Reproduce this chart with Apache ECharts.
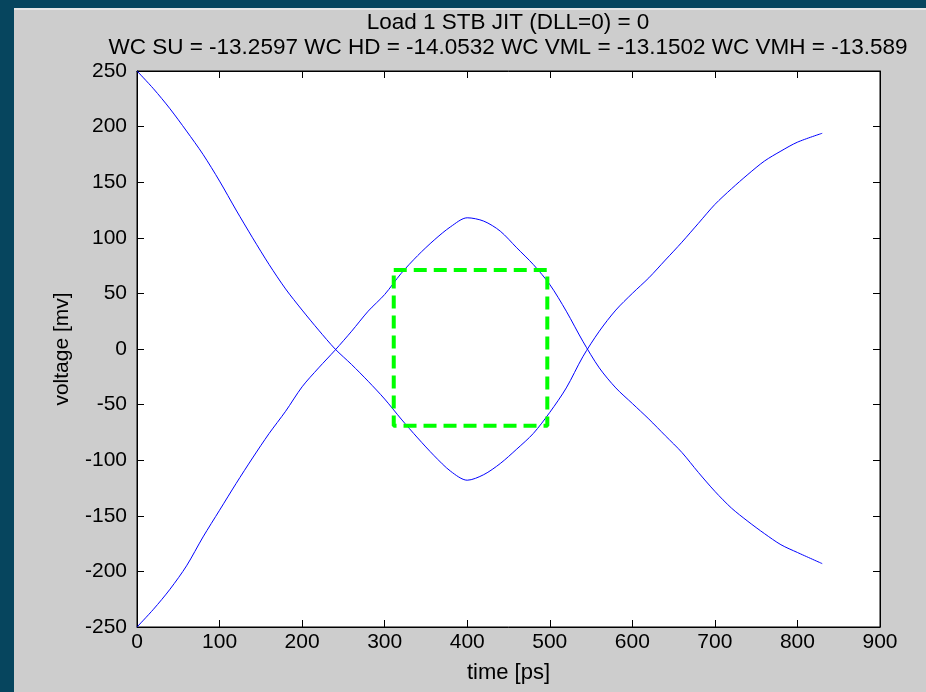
<!DOCTYPE html>
<html>
<head>
<meta charset="utf-8">
<script src="https://cdn.jsdelivr.net/npm/echarts@6/dist/echarts.min.js"></script>
<style>
  html, body { margin: 0; padding: 0; }
  #chartdata { width: 926px; height: 692px; }
</style>
</head>
<body>
<div id="chartdata"></div>
<script>
// time samples [ps]
var timePs = [0, 20, 40, 60, 80, 100, 120, 140, 160, 180, 200, 220, 240, 260, 280, 300, 320, 340, 360, 380, 400,
  420, 440, 460, 480, 500, 520, 540, 560, 580, 600, 620, 640, 660, 680, 700, 720, 740, 760, 780, 800, 830]
// trace starting high
var traceHigh = [250, 234, 216, 196, 175, 151, 125, 100, 76, 54, 35, 17, 0, -14, -29, -45, -63, -80, -96, -110, -118,
  -113, -103, -90, -76, -57, -35, -7, 16, 35, 50, 64, 80, 96, 113, 130, 144, 157, 169, 178, 186, 194]
// trace starting low
var traceLow = [-250, -234, -216, -195, -169, -145, -121, -98, -76, -56, -34, -17, -1, 16, 34, 49, 68, 84, 98, 110, 118,
  115, 106, 91, 76, 58, 34, 7, -17, -35, -49, -63, -78, -93, -111, -128, -143, -155, -166, -176, -183, -193]
// eye mask corners
var maskT = [311, 497, 497, 311, 311]
var maskV = [71, 71, -69, -69, 71]

var xTicks = [0, 100, 200, 300, 400, 500, 600, 700, 800, 900]
var yTicks = [-250, -200, -150, -100, -50, 0, 50, 100, 150, 200, 250]

var titleText = 'Load 1 STB JIT (DLL=0) = 0'
var subText = 'WC SU = -13.2597 WC HD = -14.0532 WC VML = -13.1502 WC VMH = -13.589'

var font = '"Liberation Sans", Arial, sans-serif'

function pairs (xs, ys) {
  var out = []
  for (var i = 0; i < xs.length; i++) {
    out.push([xs[i], ys[i]])
  }
  return out
}

var chart = echarts.init(document.getElementById('chartdata'))

var tickStyle = { show: true, inside: true, length: 7, lineStyle: { color: '#000', width: 1 } }

var option = {
  backgroundColor: '#cdcdcd',
  animation: false,
  textStyle: { fontFamily: font },
  graphic: [
    { type: 'rect', shape: { x: 0, y: 0, width: 926, height: 8 }, style: { fill: '#06455e' } },
    { type: 'rect', shape: { x: 0, y: 8, width: 926, height: 2 }, style: { fill: '#e6e6e6' } },
    { type: 'rect', shape: { x: 0, y: 0, width: 14, height: 692 }, style: { fill: '#06455e' } },
    {
      type: 'text', x: 508, y: 23,
      style: { text: titleText, font: '22.5px ' + font, fill: '#000', align: 'center', verticalAlign: 'middle' }
    },
    {
      type: 'text', x: 508, y: 48,
      style: { text: subText, font: '22.5px ' + font, fill: '#000', align: 'center', verticalAlign: 'middle' }
    }
  ],
  grid: {
    left: 137,
    right: 46,
    top: 71,
    bottom: 65,
    show: true,
    backgroundColor: '#fff',
    borderColor: '#000',
    borderWidth: 1
  },
  xAxis: [
    {
      type: 'value',
      min: 0,
      max: 900,
      interval: 100,
      name: 'time [ps]',
      nameLocation: 'middle',
      nameGap: 35,
      nameTextStyle: { color: '#000', fontSize: 22, fontFamily: font },
      axisLine: { show: true, onZero: false, lineStyle: { color: '#000' } },
      axisTick: tickStyle,
      splitLine: { show: false },
      axisLabel: {
        color: '#000', fontSize: 21, fontFamily: font, margin: 5,
        formatter: function (v) { return xTicks.indexOf(v) >= 0 ? String(v) : '' }
      }
    },
    {
      type: 'value',
      position: 'top',
      min: 0,
      max: 900,
      interval: 100,
      axisLine: { show: true, onZero: false, lineStyle: { color: '#000' } },
      axisTick: tickStyle,
      splitLine: { show: false },
      axisLabel: { show: false }
    }
  ],
  yAxis: [
    {
      type: 'value',
      min: -250,
      max: 250,
      interval: 50,
      name: 'voltage [mv]',
      nameLocation: 'middle',
      nameGap: 64,
      nameTextStyle: { color: '#000', fontSize: 21, fontFamily: font },
      axisLine: { show: true, onZero: false, lineStyle: { color: '#000' } },
      axisTick: tickStyle,
      splitLine: { show: false },
      axisLabel: {
        color: '#000', fontSize: 21, fontFamily: font, margin: 10,
        formatter: function (v) { return yTicks.indexOf(v) >= 0 ? String(v) : '' }
      }
    },
    {
      type: 'value',
      position: 'right',
      min: -250,
      max: 250,
      interval: 50,
      axisLine: { show: true, onZero: false, lineStyle: { color: '#000' } },
      axisTick: tickStyle,
      splitLine: { show: false },
      axisLabel: { show: false }
    }
  ],
  series: [
    {
      name: 'high',
      type: 'line',
      data: pairs(timePs, traceHigh),
      smooth: 0.3,
      showSymbol: false,
      lineStyle: { color: '#0000ff', width: 1 }
    },
    {
      name: 'low',
      type: 'line',
      data: pairs(timePs, traceLow),
      smooth: 0.3,
      showSymbol: false,
      lineStyle: { color: '#0000ff', width: 1 }
    },
    {
      name: 'mask',
      type: 'line',
      data: pairs(maskT, maskV),
      showSymbol: false,
      lineStyle: { color: '#00ff00', width: 4, type: [13, 7] }
    }
  ]
}
chart.setOption(option)
</script>
</body>
</html>
